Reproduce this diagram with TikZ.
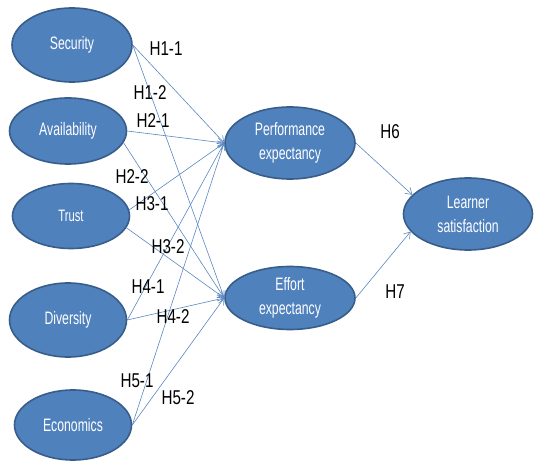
\documentclass[tikz,border=0pt]{standalone}
\usepackage{fontspec}
\setmainfont{Liberation Sans}
\newfontfamily\condfont[FakeStretch=0.68]{Liberation Sans}
\newfontfamily\labfont[FakeStretch=0.76]{Liberation Sans}
\usetikzlibrary{shapes.geometric,arrows.meta}
\definecolor{ellfill}{HTML}{4F81BD}
\definecolor{elldraw}{HTML}{385D8A}
\definecolor{linec}{HTML}{5A87C2}
\tikzset{
  ell/.style={ellipse, fill=ellfill, draw=elldraw, line width=1.6pt, inner sep=0pt,
    text=white, align=center, font=\condfont\fontsize{18}{24}\selectfont},
  conn/.style={draw=linec, line width=0.6pt, -{Straight Barb[length=6pt,width=8pt,line width=0.6pt]}},
  hlab/.style={font=\labfont\fontsize{20}{22}\selectfont, text=black, inner sep=0pt}
}
\begin{document}
\begin{tikzpicture}[x=1pt,y=-1pt]
\useasboundingbox (0,0) rectangle (535,462);
\node[ell, minimum width=120pt, minimum height=74pt] (sec) at (72,45) {Security};
\node[ell, minimum width=117pt, minimum height=66pt] (avail) at (68,131) {Availability};
\node[ell, minimum width=117pt, minimum height=65pt] (trust) at (71,216) {\fontsize{16.5}{20}\selectfont Trust};
\node[ell, minimum width=117pt, minimum height=74pt] (div) at (68,320) {Diversity};
\node[ell, minimum width=117pt, minimum height=70pt] (econ) at (73,425) {Economics};
\node[ell, minimum width=130pt, minimum height=72pt] (perf) at (290,143) {Performance\\expectancy};
\node[ell, minimum width=130pt, minimum height=63pt] (eff) at (290,298) {Effort\\expectancy};
\node[ell, minimum width=129pt, minimum height=72pt] (learn) at (468,214) {Learner\\satisfaction};

\draw[conn] (sec.east) -- (perf.west);
\draw[conn] (sec.east) -- (eff.west);
\draw[conn] (avail.east) -- (perf.west);
\draw[conn] (avail.-12) -- (eff.west);
\draw[conn] (trust.6) -- (perf.west);
\draw[conn] (trust.-12) -- (eff.west);
\draw[conn] (div.east) -- (perf.west);
\draw[conn] (div.east) -- (eff.west);
\draw[conn] (econ.east) -- (perf.west);
\draw[conn] (econ.east) -- (eff.west);
\draw[conn] (perf.east) -- (learn.161);
\draw[conn] (eff.east) -- (learn.197);

\node[hlab] (h11) at (166,49) {H1-1};
\node[hlab] (h12) at (150,93) {H1-2};
\node[hlab] (h21) at (153,121) {H2-1};
\node[hlab] (h22) at (132,177) {H2-2};
\node[hlab] (h31) at (152,204) {H3-1};
\node[hlab] (h32) at (168,247) {H3-2};
\node[hlab] (h41) at (148,287) {H4-1};
\node[hlab] (h42) at (173,317) {H4-2};
\node[hlab] (h51) at (137,381) {H5-1};
\node[hlab] (h52) at (178,398) {H5-2};
\node[hlab] (h6) at (390,132) {H6};
\node[hlab] (h7) at (395,292) {H7};
\end{tikzpicture}
\end{document}
